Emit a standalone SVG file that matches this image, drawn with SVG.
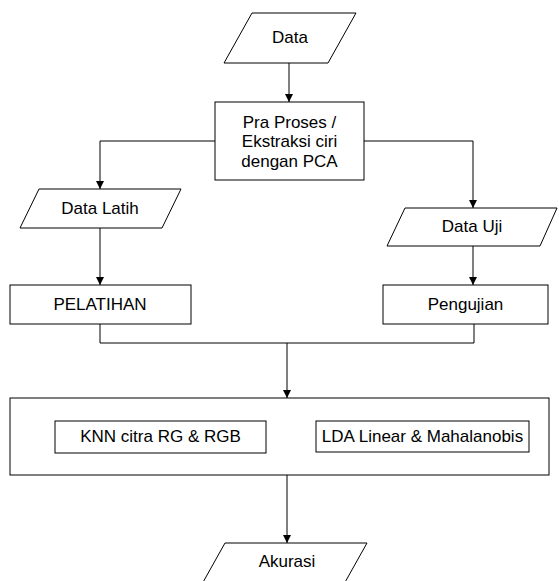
<svg xmlns="http://www.w3.org/2000/svg" width="559" height="581" viewBox="0 0 559 581">
<style>
.shape{fill:#fff;stroke:#000;stroke-width:1}
.conn{fill:none;stroke:#000;stroke-width:1}
text{font-family:"Liberation Sans",Arial,sans-serif;font-size:17px;fill:#000;text-anchor:middle}
</style>
<defs>
<marker id="arr" markerUnits="userSpaceOnUse" markerWidth="8" markerHeight="8" refX="8" refY="4" orient="auto">
<path d="M0,0 L8,4 L0,8 z" fill="#000"/>
</marker>
</defs>
<rect width="559" height="581" fill="#fff"/>
<g id="connectors">
<path class="conn" d="M289,63 V102" marker-end="url(#arr)"/>
<path class="conn" d="M215,141 H100 V189" marker-end="url(#arr)"/>
<path class="conn" d="M364,141 H473 V208" marker-end="url(#arr)"/>
<path class="conn" d="M100,228 V285" marker-end="url(#arr)"/>
<path class="conn" d="M473,246 V285" marker-end="url(#arr)"/>
<path class="conn" d="M100,324 V343 H474 V324"/>
<path class="conn" d="M287,343 V398" marker-end="url(#arr)"/>
<path class="conn" d="M287,475 V543" marker-end="url(#arr)"/>
</g>
<g id="data">
<polygon class="shape" points="252,13 356,13 328,63 224,63"/>
<text x="290" y="43">Data</text>
</g>
<g id="praproses">
<rect class="shape" x="215" y="102" width="149" height="78"/>
<text x="289.5" y="127.5">Pra Proses /</text>
<text x="289.5" y="147">Ekstraksi ciri</text>
<text x="289.5" y="166.5">dengan PCA</text>
</g>
<g id="datalatih">
<polygon class="shape" points="39,189 181,189 162,228 20,228"/>
<text x="100" y="214">Data Latih</text>
</g>
<g id="datauji">
<polygon class="shape" points="405,208 557,208 540,246 387,246"/>
<text x="472" y="232">Data Uji</text>
</g>
<g id="pelatihan">
<rect class="shape" x="10" y="285" width="181" height="39"/>
<text x="100" y="310">PELATIHAN</text>
</g>
<g id="pengujian">
<rect class="shape" x="383" y="285" width="165" height="39"/>
<text x="465.5" y="310">Pengujian</text>
</g>
<g id="klasifikasi">
<rect class="shape" x="10" y="398" width="539" height="77"/>
</g>
<g id="knn">
<rect class="shape" x="55" y="421" width="211" height="32"/>
<text x="160.5" y="442">KNN citra RG &amp; RGB</text>
</g>
<g id="lda">
<rect class="shape" x="316" y="421" width="213" height="31"/>
<text x="422.5" y="442">LDA Linear &amp; Mahalanobis</text>
</g>
<g id="akurasi">
<polygon class="shape" points="225,543 367,543 339,593 197,593"/>
<text x="287" y="567">Akurasi</text>
</g>
</svg>
